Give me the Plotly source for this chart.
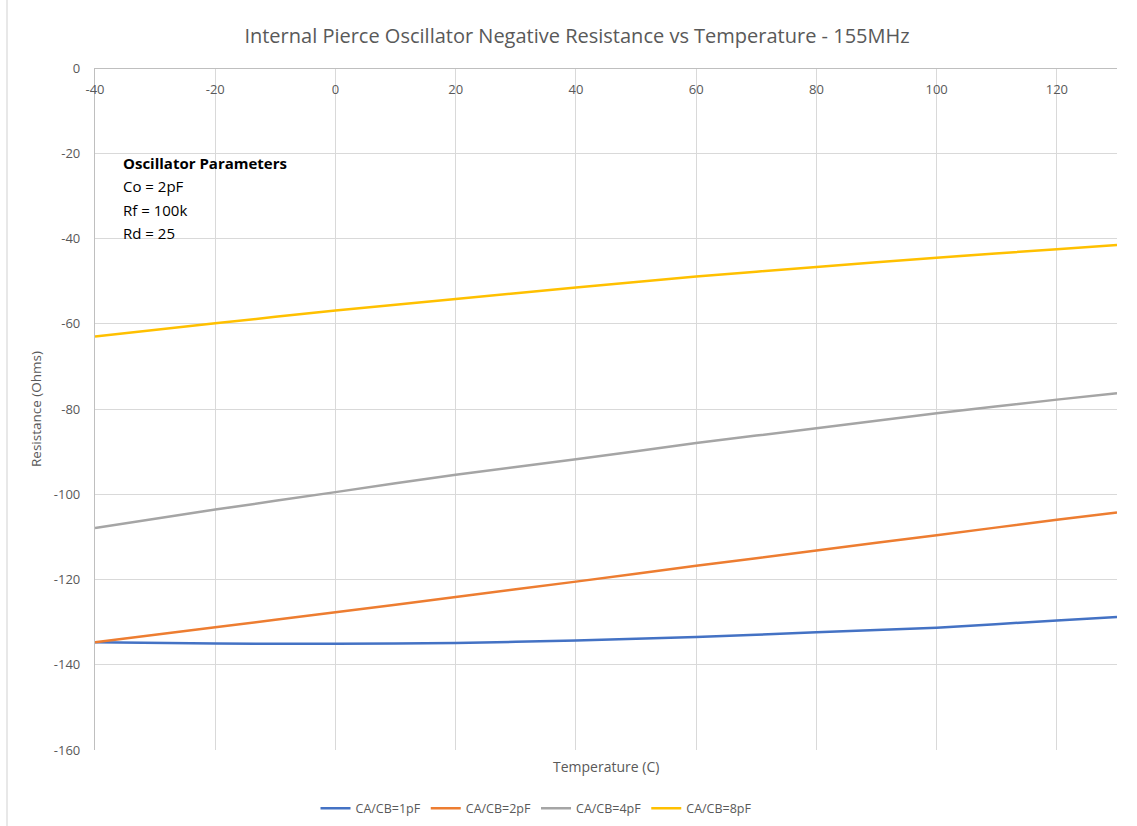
import plotly.graph_objects as go

# Temperature sweep (deg C) and negative resistance (Ohms) per load capacitance
temperature = [-40, -20, 0, 20, 40, 60, 80, 100, 120, 130]
r_1pf = [-134.7, -135.0, -135.1, -134.9, -134.3, -133.5, -132.4, -131.3, -129.6, -128.8]
r_2pf = [-134.7, -131.2, -127.7, -124.1, -120.5, -116.8, -113.2, -109.6, -106.0, -104.3]
r_4pf = [-107.9, -103.6, -99.5, -95.4, -91.8, -88.0, -84.5, -81.0, -77.8, -76.3]
r_8pf = [-63.0, -59.9, -56.9, -54.2, -51.5, -48.9, -46.7, -44.5, -42.5, -41.5]

series_names = ["CA/CB=1pF", "CA/CB=2pF", "CA/CB=4pF", "CA/CB=8pF"]
series_colors = ["#4472C4", "#ED7D31", "#A5A5A5", "#FFC000"]
x_ticks = [-40, -20, 0, 20, 40, 60, 80, 100, 120]
x_tick_labels = ["-40", "-20", "0", "20", "40", "60", "80", "100", "120"]
y_ticks = [0, -20, -40, -60, -80, -100, -120, -140, -160]
y_tick_labels = ["0", "-20", "-40", "-60", "-80", "-100", "-120", "-140", "-160"]

param_lines = ["<b>Oscillator Parameters</b>", "Co = 2pF", "Rf = 100k", "Rd = 25"]

FONT = "'Open Sans', Lato, sans-serif"
TEXT_GREY = "#595959"
GRID = "#d9d9d9"

fig = go.Figure()
for name, color, vals in zip(series_names, series_colors, [r_1pf, r_2pf, r_4pf, r_8pf]):
    fig.add_trace(go.Scatter(
        x=temperature, y=vals, name=name, mode="lines",
        line=dict(color=color, width=2.5, shape="spline", smoothing=0.6),
    ))

fig.update_layout(
    width=1137, height=826,
    margin=dict(l=95, r=20, t=68, b=76, autoexpand=False),
    paper_bgcolor="white", plot_bgcolor="white",
    font=dict(family=FONT, color=TEXT_GREY, size=12),
    title=dict(
        text="Internal Pierce Oscillator Negative Resistance vs Temperature - 155MHz",
        xref="container", yref="container",
        x=0.5075, xanchor="center", y=0.956, yanchor="middle",
        font=dict(family=FONT, size=20, color=TEXT_GREY),
    ),
    showlegend=True,
    legend=dict(
        orientation="h", yref="container",
        x=0.432, xanchor="center", y=0.021, yanchor="middle",
        font=dict(family=FONT, size=12.5, color=TEXT_GREY),
        tracegroupgap=0,
    ),
    # x axis runs along the top edge (y = 0) with its labels just beneath it
    xaxis=dict(
        range=[-40, 130], tickvals=x_ticks, ticktext=x_tick_labels,
        anchor="free", position=1, side="bottom", ticks="",
        showgrid=True, gridcolor=GRID, gridwidth=1,
        showline=True, linecolor="#bfbfbf", linewidth=1.2,
        zeroline=False, tickfont=dict(size=13, color=TEXT_GREY),
        ticklabelstandoff=9,
    ),
    yaxis=dict(
        range=[-160, 0], tickvals=y_ticks, ticktext=y_tick_labels, ticks="",
        showgrid=True, gridcolor=GRID, gridwidth=1,
        showline=True, linecolor="#bfbfbf", linewidth=1.2,
        zeroline=False, tickfont=dict(size=13, color=TEXT_GREY),
        ticklabelstandoff=11,
        title=dict(text="Resistance (Ohms)", standoff=9,
                   font=dict(size=13.5, color=TEXT_GREY)),
    ),
)

# x-axis title sits below the plot area
fig.add_annotation(
    text="Temperature (C)", xref="paper", yref="paper",
    x=0.5, y=-0.008, xanchor="center", yanchor="top", showarrow=False,
    font=dict(family=FONT, size=14, color=TEXT_GREY),
)

# Parameter box, one line per annotation for Excel-like line spacing
plot_top, plot_h = 68, 682
for i, line in enumerate(param_lines):
    y_px = 163 + i * 23.4
    fig.add_annotation(
        text=line, xref="paper", yref="paper",
        x=0.025, y=1 - (y_px - plot_top) / plot_h,
        xanchor="left", yanchor="middle", align="left", showarrow=False,
        font=dict(family=FONT, size=15, color="black"),
    )

# chart outline on the left edge
fig.add_shape(
    type="line", xref="paper", yref="paper",
    x0=-0.0861, x1=-0.0861, y0=-0.2, y1=1.2,
    line=dict(color=GRID, width=1.2), layer="below",
)

fig.write_html("out.html")
